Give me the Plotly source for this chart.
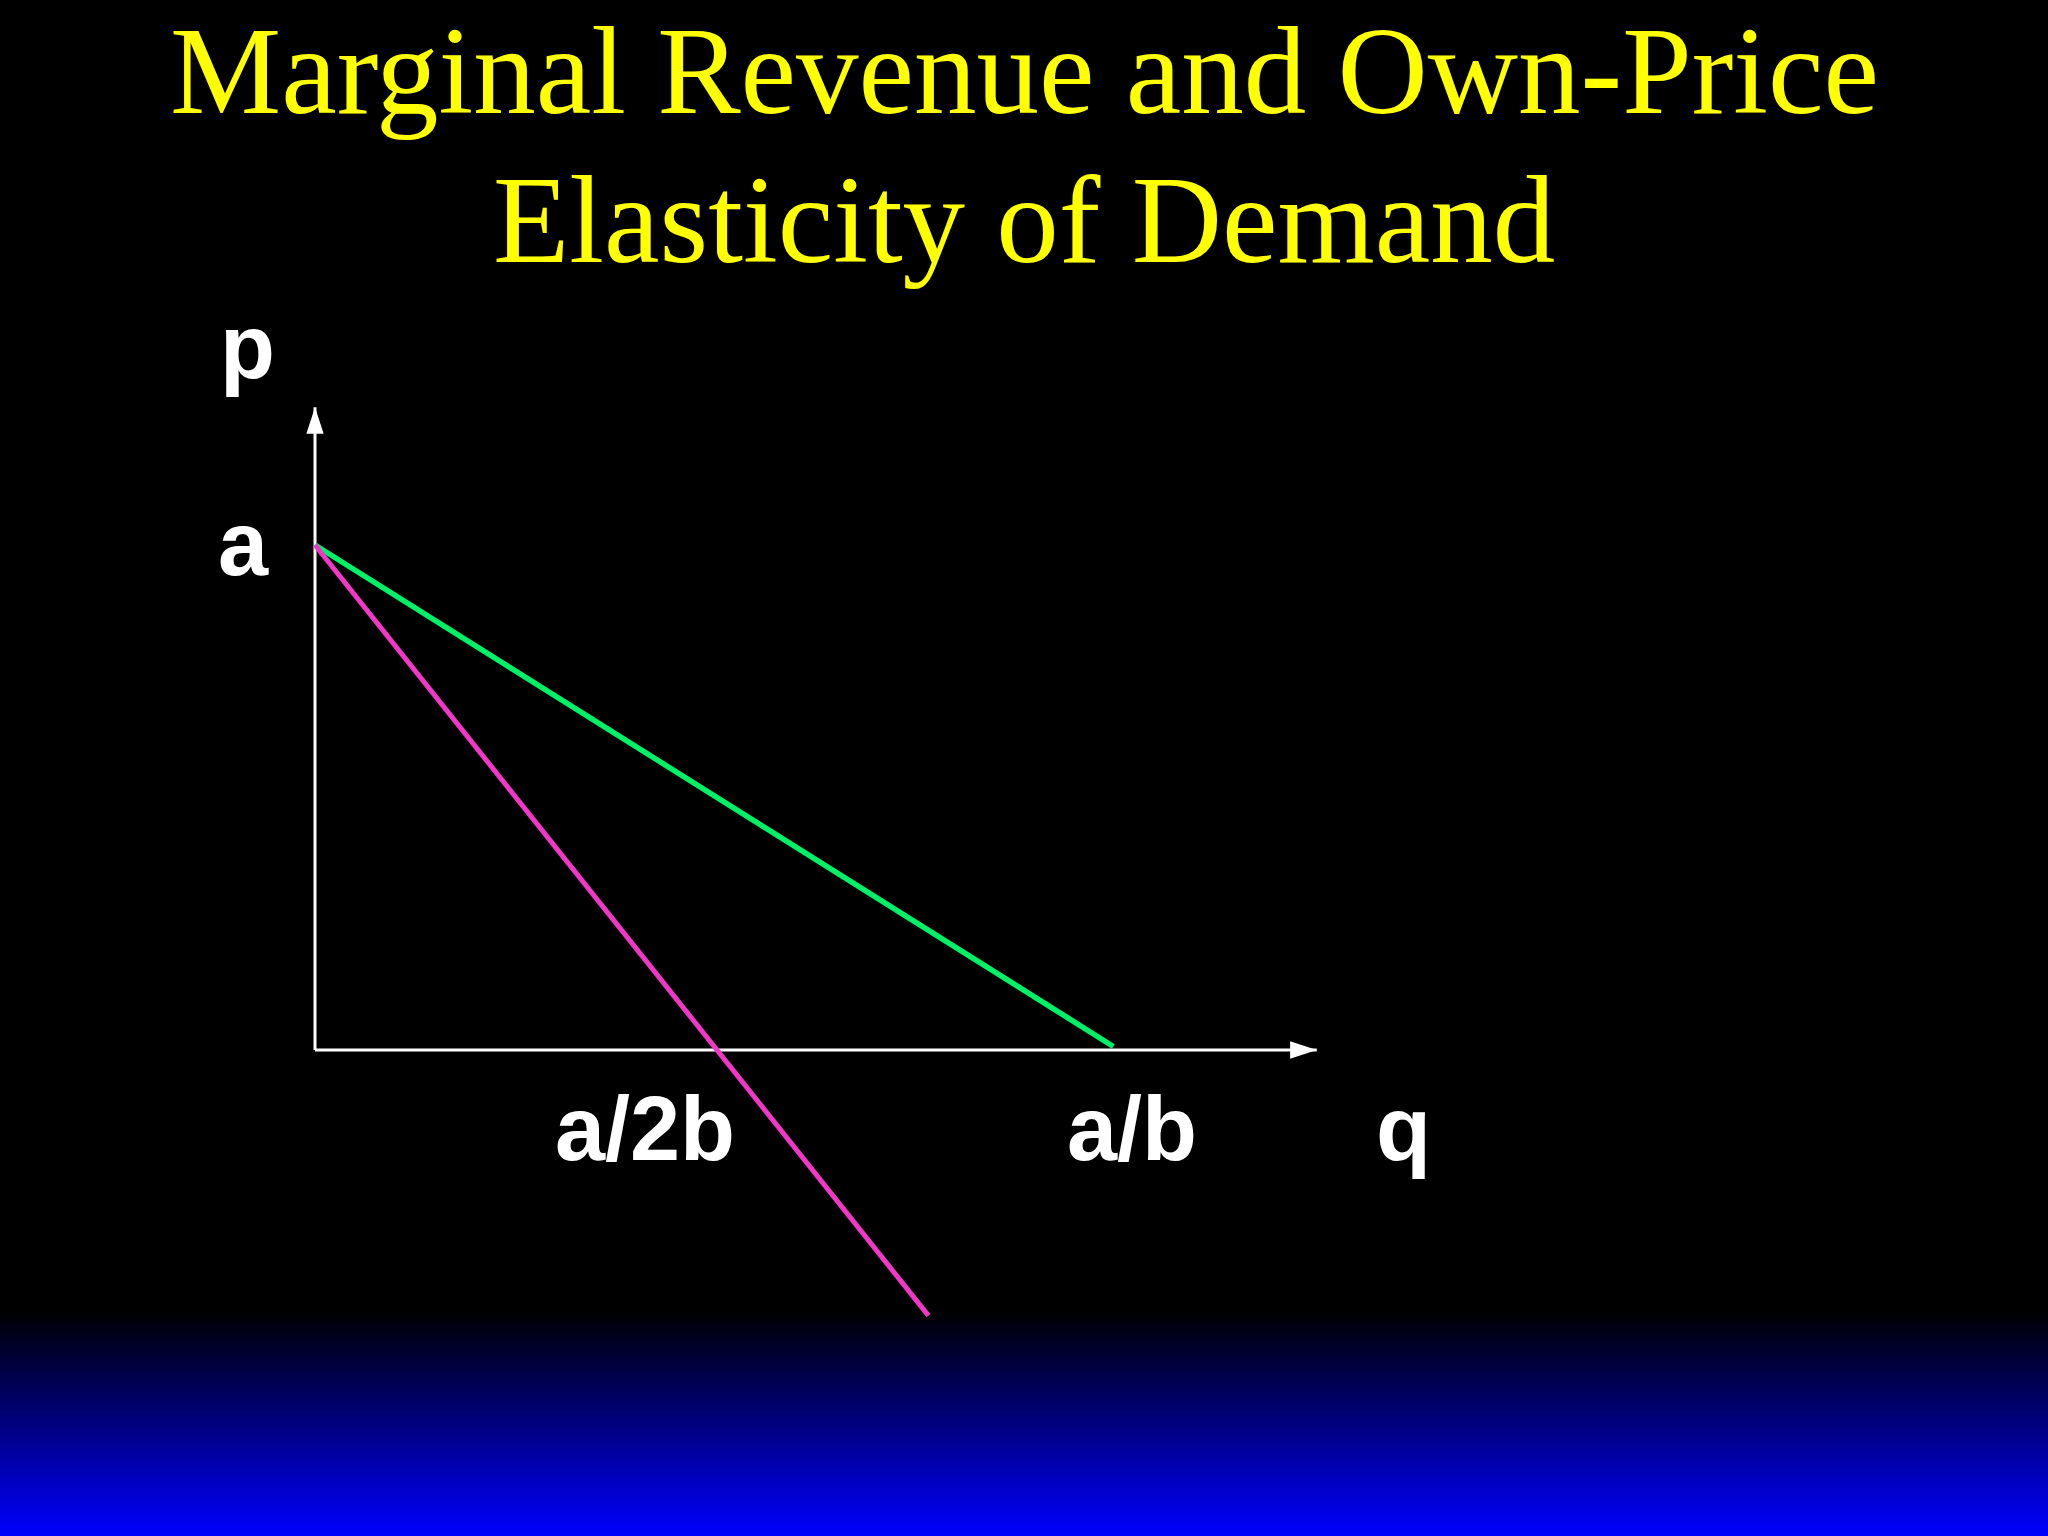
import plotly.graph_objects as go

# ---------------- data ----------------
A = 10.0            # intercept a
B = 1.0             # slope b  -> a/b = 10, a/2b = 5
demand_q = [0.0, 9.93]
demand_p = [10.0, 0.07]
mr_q = [0.0, 7.63]
mr_p = [10.0, -5.26]
q_axis_end = 12.46
p_axis_end = 12.73
tick_labels_q = ["a/2b", "a/b"]
tick_vals_q = [A / (2 * B), A / B]
tick_label_p = "a"
title_lines = ["Marginal Revenue and Own-Price", "Elasticity of Demand"]

# ---------------- layout geometry ----------------
W, H = 2048, 1536
OX, OY = 315, 1050          # pixel position of origin
SX, SY = 80.4, 50.5         # pixels per data unit
x_range = [-OX / SX, (W - OX) / SX]
y_range = [-(H - OY) / SY, OY / SY]


def py(p):  # pixel y -> paper
    return 1 - p / H


def pxx(p):  # pixel x -> paper
    return p / W


fig = go.Figure()

# axes lines
fig.add_trace(go.Scatter(x=[0, q_axis_end], y=[0, 0], mode="lines",
                         line=dict(color="white", width=3), hoverinfo="skip"))
fig.add_trace(go.Scatter(x=[0, 0], y=[0, p_axis_end], mode="lines",
                         line=dict(color="white", width=3), hoverinfo="skip"))
# arrow heads
fig.add_trace(go.Scatter(x=[q_axis_end, 0], y=[0, p_axis_end], mode="markers",
                         marker=dict(symbol="arrow", size=28, angle=[90, 0],
                                     color="white", line=dict(width=0)),
                         hoverinfo="skip"))
# demand
fig.add_trace(go.Scatter(x=demand_q, y=demand_p, mode="lines",
                         line=dict(color="#00F066", width=5.5), hoverinfo="skip"))
# marginal revenue
fig.add_trace(go.Scatter(x=mr_q, y=mr_p, mode="lines",
                         line=dict(color="#F037C8", width=5), hoverinfo="skip"))

# background gradient at bottom
shapes = []
g0, g1 = 1310, H
n = 80
for i in range(n):
    y_top = g0 + (g1 - g0) * i / n
    y_bot = g0 + (g1 - g0) * (i + 1) / n
    t = (i + 0.5) / n
    shapes.append(dict(type="rect", xref="paper", yref="paper", x0=0, x1=1,
                       y0=max(py(y_bot) - 0.0005, 0), y1=py(y_top),
                       fillcolor=f"rgb(0,0,{int(round(255 * t))})",
                       line=dict(width=0), layer="below"))

annotations = []
# title
for line, top in zip(title_lines, [1, 150]):
    annotations.append(dict(text=line, xref="paper", yref="paper",
                            x=0.5, y=py(top), xanchor="center", yanchor="top",
                            showarrow=False, borderpad=0,
                            font=dict(family="Liberation Serif", size=125,
                                      color="#FFFF00")))

lab_font = dict(family="Liberation Sans", size=90, color="white", weight="bold")
labels = [
    ("p", 247, 296),
    (tick_label_p, 243, 493),
    (tick_labels_q[0], 645, 1078),
    (tick_labels_q[1], 1132, 1078),
    ("q", 1403, 1078),
]
for txt, cx, top in labels:
    annotations.append(dict(text=f"<b>{txt}</b>", xref="paper", yref="paper",
                            x=pxx(cx), y=py(top), xanchor="center",
                            yanchor="top", showarrow=False, borderpad=0,
                            font=lab_font))

fig.update_layout(
    width=W, height=H,
    margin=dict(l=0, r=0, t=0, b=0),
    paper_bgcolor="#000000",
    plot_bgcolor="rgba(0,0,0,0)",
    showlegend=False,
    xaxis=dict(range=x_range, visible=False, fixedrange=True),
    yaxis=dict(range=y_range, visible=False, fixedrange=True),
    shapes=shapes,
    annotations=annotations,
)

fig.write_html("out.html", config={"displayModeBar": False},
               post_script="document.body.style.margin='0';"
                           "document.body.style.background='#000';"
                           "document.documentElement.style.overflow='hidden';")
